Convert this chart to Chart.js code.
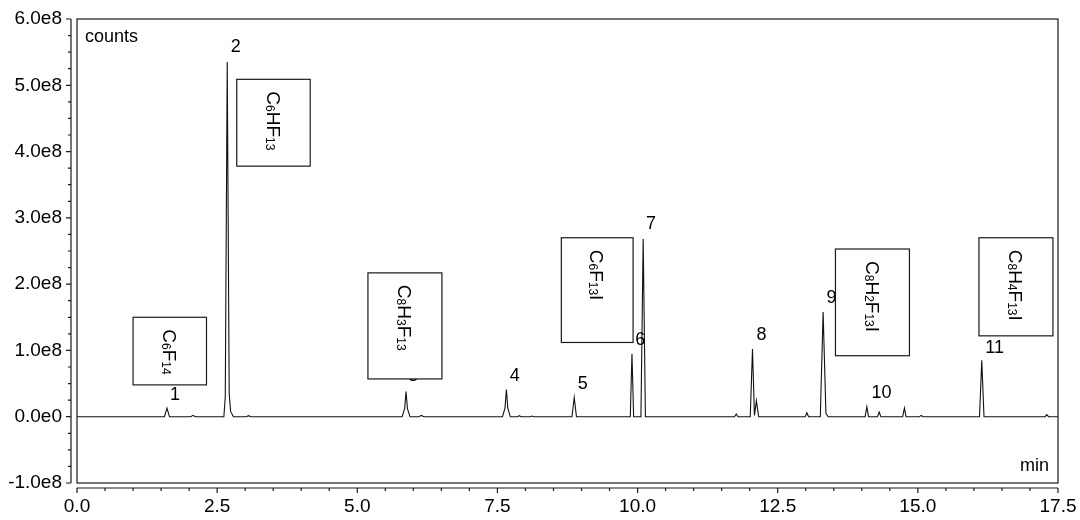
<!DOCTYPE html>
<html>
<head>
<meta charset="utf-8">
<script src="https://cdn.jsdelivr.net/npm/chart.js@4.4.1/dist/chart.umd.min.js"></script>
<style>
  html, body { margin: 0; padding: 0; background: #fff; }
  #wrap { width: 1080px; height: 520px; }
</style>
</head>
<body>
<div id="wrap"><canvas id="chromatogram" width="1080" height="520"></canvas></div>
<script>
// trace: retention time (min) and detector counts
const retentionTimes = [
    0,
    1.56, 1.605, 1.65,
    2.03, 2.07, 2.11,
    2.62, 2.645, 2.68, 2.715, 2.74, 2.79,
    3.02, 3.06, 3.10,
    5.80, 5.845, 5.87, 5.895, 5.94,
    6.10, 6.14, 6.19,
    7.59, 7.635, 7.66, 7.685, 7.73,
    7.86, 7.89, 7.92,
    8.09, 8.12, 8.15,
    8.83, 8.87, 8.91,
    9.87, 9.90, 9.93,
    10.06, 10.10, 10.14,
    11.73, 11.76, 11.79,
    12.01, 12.05, 12.085, 12.12, 12.16,
    12.99, 13.02, 13.05,
    13.26, 13.31, 13.36, 13.40,
    14.06, 14.09, 14.12,
    14.28, 14.31, 14.34,
    14.73, 14.76, 14.79,
    15.03, 15.06, 15.09,
    16.10, 16.14, 16.18,
    17.27, 17.30, 17.33,
    17.5
];
const signalCounts = [
    0,
    0, 0.13e8, 0,
    0, 0.02e8, 0,
    0, 0.3e8, 5.35e8, 0.35e8, 0.08e8, 0,
    0, 0.015e8, 0,
    0, 0.12e8, 0.38e8, 0.12e8, 0,
    0, 0.02e8, 0,
    0, 0.13e8, 0.41e8, 0.13e8, 0,
    0, 0.015e8, 0,
    0, 0.01e8, 0,
    0, 0.29e8, 0,
    0, 0.95e8, 0,
    0, 2.68e8, 0,
    0, 0.04e8, 0,
    0, 1.02e8, 0.02e8, 0.24e8, 0,
    0, 0.06e8, 0,
    0, 1.58e8, 0.05e8, 0,
    0, 0.15e8, 0,
    0, 0.07e8, 0,
    0, 0.13e8, 0,
    0, 0.02e8, 0,
    0, 0.85e8, 0,
    0, 0.03e8, 0,
    0
];

const yTickLabels = ['-1.0e8', '0.0e0', '1.0e8', '2.0e8', '3.0e8', '4.0e8', '5.0e8', '6.0e8'];
const xTickLabels = ['0.0', '2.5', '5.0', '7.5', '10.0', '12.5', '15.0', '17.5'];

// peak numbers and where they sit (min, counts)
const peakNumbers = ['1', '2', '3', '4', '5', '6', '7', '8', '9', '10', '11'];
const peakLabelTimes = [1.75, 2.83, 6.0, 7.81, 9.02, 10.05, 10.24, 12.21, 13.46, 14.35, 16.37];
const peakLabelCounts = [0.33e8, 5.57e8, 0.62e8, 0.61e8, 0.49e8, 1.15e8, 2.90e8, 1.23e8, 1.79e8, 0.36e8, 1.04e8];

// formula boxes, "_" marks a subscript
const formulas = ['C_6F_14', 'C_6HF_13', 'C_8H_3F_13', 'C_6F_13I', 'C_8H_2F_13I', 'C_8H_4F_13I'];
const boxTimes = [[1.00, 2.31], [2.85, 4.16], [5.19, 6.51], [8.64, 9.92], [13.53, 14.85], [16.09, 17.41]];
const boxCounts = [[1.50e8, 0.48e8], [5.09e8, 3.78e8], [2.17e8, 0.57e8], [2.70e8, 1.12e8], [2.53e8, 0.92e8], [2.70e8, 1.22e8]];

const FONT = '"Liberation Sans", Arial, sans-serif';
const INK = '#1a1a1a';

const drawFormula = (ctx, text, cx, top) => {
    const parts = text.split(/_(\d+)/);
    const big = 19, small = 12;
    ctx.save();
    ctx.translate(cx, top);
    ctx.rotate(Math.PI / 2);
    ctx.textBaseline = 'alphabetic';
    ctx.textAlign = 'left';
    const cap = big * 0.716;
    let pos = 0;
    parts.forEach((p, i) => {
        if (!p) return;
        const sub = i % 2 === 1;
        ctx.font = `${sub ? small : big}px ${FONT}`;
        ctx.fillText(p, pos, cap / 2 + (sub ? 1 : 0));
        pos += ctx.measureText(p).width;
    });
    ctx.restore();
};

const frameAndNotes = {
    id: 'frameAndNotes',
    afterDatasetsDraw(chart) {
        const { ctx, chartArea: a, scales: { x, y } } = chart;
        ctx.save();
        ctx.strokeStyle = INK;
        ctx.lineWidth = 1.2;
        ctx.strokeRect(a.left, a.top, a.right - a.left, a.bottom - a.top);

        // axes sit a few pixels off the frame, ticks pointing out
        const ax = a.left - 6, ay = a.bottom + 5;
        ctx.beginPath();
        ctx.moveTo(ax, a.top);
        ctx.lineTo(ax, a.bottom);
        for (let i = 0; i <= 28; i++) {
            const py = y.getPixelForValue(-1e8 + i * 0.25e8);
            ctx.moveTo(ax - (i % 4 === 0 ? 5 : 3), py);
            ctx.lineTo(ax, py);
        }
        ctx.moveTo(a.left, ay);
        ctx.lineTo(a.right, ay);
        for (let i = 0; i <= 35; i++) {
            const px = x.getPixelForValue(i * 0.5);
            ctx.moveTo(px, ay);
            ctx.lineTo(px, ay + (i % 5 === 0 ? 5 : 3));
        }
        ctx.stroke();

        ctx.fillStyle = '#000';
        ctx.font = `18px ${FONT}`;
        ctx.textBaseline = 'alphabetic';
        ctx.textAlign = 'left';
        ctx.fillText('counts', a.left + 8, 42);
        ctx.textAlign = 'right';
        ctx.fillText('min', a.right - 9, 471);

        ctx.font = `18px ${FONT}`;
        ctx.textAlign = 'center';
        ctx.textBaseline = 'middle';
        peakNumbers.forEach((n, i) => {
            ctx.fillText(n, x.getPixelForValue(peakLabelTimes[i]), y.getPixelForValue(peakLabelCounts[i]));
        });

        formulas.forEach((f, i) => {
            const l = x.getPixelForValue(boxTimes[i][0]), r = x.getPixelForValue(boxTimes[i][1]);
            const t = y.getPixelForValue(boxCounts[i][0]), b = y.getPixelForValue(boxCounts[i][1]);
            ctx.fillStyle = '#fff';
            ctx.fillRect(l, t, r - l, b - t);
            ctx.strokeRect(l, t, r - l, b - t);
            ctx.fillStyle = '#000';
            drawFormula(ctx, f, (l + r) / 2, t + 12);
        });
        ctx.restore();
    }
};

// keep the plot box where the reference has it; labels may overhang
const noOverhang = s => {
    s.paddingTop = 0;
    s.paddingBottom = 0;
    s.paddingLeft = 0;
    s.paddingRight = 0;
};

new Chart(document.getElementById('chromatogram'), {
    type: 'line',
    data: {
        datasets: [{
            data: retentionTimes.map((t, i) => ({ x: t, y: signalCounts[i] })),
            borderColor: '#111',
            borderWidth: 1.1,
            pointRadius: 0,
            tension: 0,
            fill: false
        }]
    },
    options: {
        responsive: false,
        animation: false,
        devicePixelRatio: 1,
        layout: { padding: { top: 19, right: 22, left: 0, bottom: 0 } },
        plugins: { legend: { display: false }, tooltip: { enabled: false } },
        scales: {
            x: {
                type: 'linear',
                min: 0,
                max: 17.5,
                afterFit: s => { s.height = 37; noOverhang(s); },
                border: { display: false },
                grid: { display: false, drawTicks: false },
                ticks: {
                    stepSize: 2.5,
                    padding: 12,
                    maxRotation: 0,
                    color: '#000',
                    font: { family: FONT, size: 19 },
                    callback: (v) => xTickLabels[Math.round(v / 2.5)]
                }
            },
            y: {
                min: -1e8,
                max: 6e8,
                afterFit: s => { s.width = 77; noOverhang(s); },
                border: { display: false },
                grid: { display: false, drawTicks: false },
                ticks: {
                    stepSize: 1e8,
                    padding: 15,
                    color: '#000',
                    font: { family: FONT, size: 19 },
                    callback: (v) => yTickLabels[Math.round(v / 1e8) + 1]
                }
            }
        }
    },
    plugins: [frameAndNotes]
});
</script>
</body>
</html>
